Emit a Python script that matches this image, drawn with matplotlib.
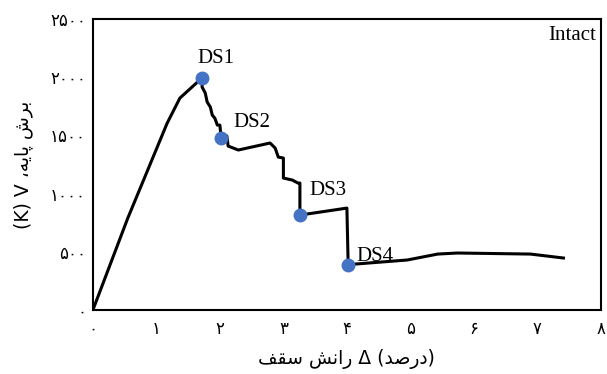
import matplotlib.pyplot as plt

# --- Curva pushover: deriva de techo (%) y cortante basal (K) ---
drift = [0.0, 0.55, 1.17, 1.37, 1.72,
         1.72, 1.77, 1.80, 1.85, 1.88, 1.92, 1.96, 2.00, 2.02,
         2.11, 2.13, 2.29, 2.79, 2.87, 2.92, 3.00, 3.00, 3.14, 3.23, 3.26, 3.26,
         4.00, 4.02,
         4.13, 4.95, 5.43, 5.74, 6.89, 7.41]
shear = [0, 790, 1606, 1821, 1995,
         1916, 1864, 1787, 1744, 1675, 1649, 1589, 1589, 1478,
         1495, 1409, 1375, 1435, 1392, 1314, 1306, 1134, 1117, 1091, 1091, 816,
         876, 387,
         395, 430, 481, 490, 481, 447]

# --- Estados de dano ---
ds_names = ["DS1", "DS2", "DS3", "DS4"]
ds_idx = [4, 13, 25, 27]
ds_offsets = [(10, 14), (22, 11), (20, 18), (19, 6)]

# --- Ejes ---
x_ticks = [0, 1, 2, 3, 4, 5, 6, 7, 8]
y_ticks = [0, 500, 1000, 1500, 2000, 2500]
fa_digits = "۰۱۲۳۴۵۶۷۸۹"


def fa_num(n):
    return "".join(fa_digits[int(c)] for c in str(n))


# texto persa ya en formas de presentacion (orden visual)
w_ranesh = "\uFEB6\uFEE7\uFE8D\uFEAD"
w_saghf = "\uFED2\uFED8\uFEB3"
w_darsad = "\uFEAA\uFEBB\uFEAD\uFEA9"
w_boresh = "\uFEB5\uFEAE\uFE91"
w_payeh = "\uFEEA\uFBFE\uFE8E\uFB58"
x_title = w_saghf + " " + w_ranesh + " \u0394 (" + w_darsad + ")"
y_title = "(K) V \u060C" + w_payeh + " " + w_boresh

fig = plt.figure(figsize=(6.07, 3.74), dpi=100)
ax = fig.add_axes([0.153, 0.171, 0.837, 0.778])

ax.plot(drift, shear, color="black", lw=2.2, zorder=2)
ax.plot([drift[i] for i in ds_idx], [shear[i] for i in ds_idx], "o",
        color="#4472C4", ms=9, zorder=3)
for name, i, off in zip(ds_names, ds_idx, ds_offsets):
    ax.annotate(name, (drift[i], shear[i]), xytext=off, textcoords="offset points",
                ha="center", va="center", fontsize=15, family="Liberation Serif")

ax.text(0.99, 0.975, "Intact", transform=ax.transAxes, ha="right", va="top",
        fontsize=15, family="Liberation Serif")

ax.set_xlim(0, 8)
ax.set_ylim(0, 2500)
ax.set_xticks(x_ticks)
ax.set_xticklabels([fa_num(v) for v in x_ticks])
ax.set_yticks(y_ticks)
ax.set_yticklabels([fa_num(v) for v in y_ticks])
ax.tick_params(length=0, labelsize=12, pad=5)
ax.tick_params(axis="x", pad=7)
for s in ax.spines.values():
    s.set_linewidth(1.5)

ax.set_xlabel(x_title, fontsize=13.5, labelpad=8)
ax.set_ylabel(y_title, fontsize=13.5, labelpad=12)

fig.savefig("out.png", dpi=100)
